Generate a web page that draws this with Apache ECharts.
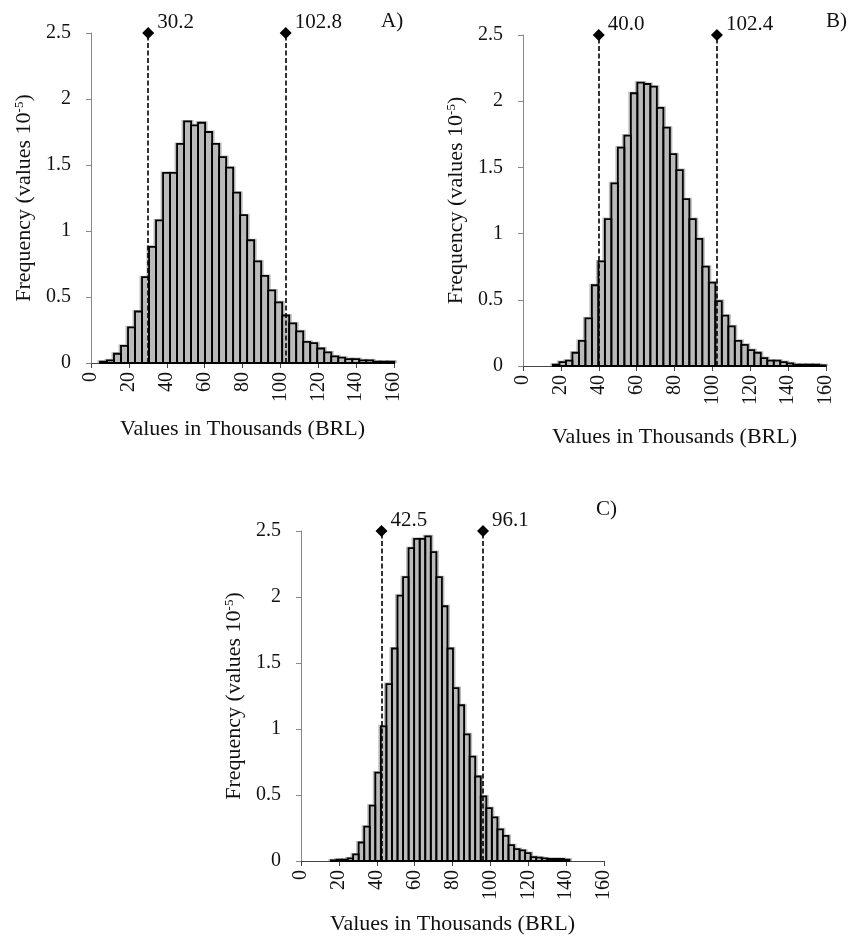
<!DOCTYPE html>
<html>
<head>
<meta charset="utf-8">
<script src="https://cdn.jsdelivr.net/npm/echarts@6/dist/echarts.min.js"></script>
<style>
  html, body { margin: 0; padding: 0; background: #fff; }
  #chart { width: 852px; height: 941px; }
</style>
</head>
<body>
<div id="chart"></div>
<script>
// histogram frequencies (values 10^-5), one entry per bin
const freqA = [0.01, 0.02, 0.07, 0.13, 0.27, 0.39, 0.65, 0.88, 1.08, 1.44,
  1.44, 1.66, 1.83, 1.80, 1.82, 1.75, 1.66, 1.56, 1.48, 1.29,
  1.12, 0.93, 0.77, 0.66, 0.55, 0.46, 0.36, 0.30, 0.24, 0.16,
  0.15, 0.11, 0.08, 0.05, 0.04, 0.03, 0.03, 0.02, 0.02, 0.01,
  0.01, 0.01]
const freqB = [0.01, 0.03, 0.04, 0.10, 0.19, 0.36, 0.61, 0.79, 1.11, 1.38,
  1.65, 1.74, 2.06, 2.14, 2.13, 2.11, 1.95, 1.80, 1.60, 1.48,
  1.26, 1.11, 0.96, 0.75, 0.63, 0.49, 0.38, 0.30, 0.19, 0.16,
  0.12, 0.10, 0.06, 0.04, 0.04, 0.03, 0.02, 0.01, 0.01, 0.01,
  0.01, 0.005]
const freqC = [0.005, 0.01, 0.01, 0.02, 0.05, 0.14, 0.26, 0.42, 0.67, 1.02,
  1.34, 1.61, 2.01, 2.15, 2.37, 2.44, 2.44, 2.46, 2.34, 2.15,
  1.93, 1.61, 1.31, 1.18, 0.96, 0.79, 0.64, 0.49, 0.40, 0.33,
  0.24, 0.19, 0.12, 0.09, 0.08, 0.06, 0.03, 0.025, 0.02, 0.015,
  0.015, 0.015, 0.01]

// bins: first edge and width, in thousands BRL
const binA = { start: 4.75, width: 3.7 }
const binB = { start: 15.8, width: 3.43 }
const binC = { start: 15.8, width: 2.93 }

// interval limits marked with dashed lines
const cutA = [30.2, 102.8]
const cutB = [40.0, 102.4]
const cutC = [42.5, 96.1]

const panelNames = ['A)', 'B)', 'C)']

const SERIF = '"Liberation Serif", "DejaVu Serif", serif'
const GREY = '#bababa'
const INK = '#111'

const grids = [
  { left: 91, top: 33, width: 303, height: 330 },
  { left: 523, top: 35, width: 303, height: 331 },
  { left: 301, top: 531, width: 303, height: 330 }
]
const xNameGaps = [55, 60, 52]

const toBins = (freq, bin) => freq.map((v, i) => [bin.start + i * bin.width, bin.start + (i + 1) * bin.width, v])

const greyItem = (params, api) => {
  const p0 = api.coord([api.value(0), api.value(2)])
  const p1 = api.coord([api.value(1), 0])
  return {
    type: 'rect',
    shape: { x: p0[0] - 2.5, y: p0[1] - 1.5, width: p1[0] - p0[0] + 5, height: p1[1] - p0[1] + 1.5 },
    style: { fill: GREY }
  }
}
const outlineItem = (params, api) => {
  const p0 = api.coord([api.value(0), api.value(2)])
  const p1 = api.coord([api.value(1), 0])
  return {
    type: 'rect',
    shape: { x: p0[0], y: p0[1], width: p1[0] - p0[0], height: p1[1] - p0[1] },
    style: { fill: 'none', stroke: '#000', lineWidth: 1.8 }
  }
}

const xAxes = grids.map((g, i) => ({
  type: 'value', gridIndex: i, min: 0, max: 160, interval: 20,
  axisLine: { lineStyle: { color: '#444', width: 1 } },
  axisTick: { length: 5, lineStyle: { color: '#444' } },
  axisLabel: { rotate: 90, margin: 9, fontSize: 20, color: INK, fontFamily: SERIF },
  splitLine: { show: false },
  name: 'Values in Thousands (BRL)', nameLocation: 'middle', nameGap: xNameGaps[i],
  nameTextStyle: { fontSize: 22, color: INK, fontFamily: SERIF }
}))

const yAxes = grids.map((g, i) => ({
  type: 'value', gridIndex: i, min: 0, max: 2.5, interval: 0.5,
  axisLine: { show: true, lineStyle: { color: '#888', width: 1 } },
  axisTick: { show: true, length: 5, lineStyle: { color: '#888' } },
  axisLabel: { margin: 20, fontSize: 20, color: INK, fontFamily: SERIF },
  splitLine: { show: false },
  name: 'Frequency (values 10{sup|-5})', nameLocation: 'middle', nameGap: 55,
  nameTextStyle: {
    fontSize: 22, color: INK, fontFamily: SERIF,
    rich: { sup: { fontSize: 13, fontFamily: SERIF, color: INK, verticalAlign: 'top', padding: [0, 0, 10, 0] } }
  }
}))

const series = []
;[[freqA, binA, cutA], [freqB, binB, cutB], [freqC, binC, cutC]].forEach(([freq, bin, cuts], i) => {
  const bins = toBins(freq, bin)
  series.push({
    type: 'custom', xAxisIndex: i, yAxisIndex: i, renderItem: greyItem,
    data: bins, z: 1, clip: false, silent: true
  })
  series.push({
    type: 'custom', xAxisIndex: i, yAxisIndex: i, renderItem: outlineItem,
    data: bins, z: 2, clip: false, silent: true,
    markLine: {
      silent: true, symbol: ['none', 'none'], label: { show: false },
      lineStyle: { type: [5, 2.5], color: '#000', width: 1.6 },
      data: cuts.map(c => ({ xAxis: c }))
    }
  })
  series.push({
    type: 'scatter', xAxisIndex: i, yAxisIndex: i, clip: false, z: 5,
    symbol: 'diamond', symbolSize: 12,
    itemStyle: { color: '#000', opacity: 1 },
    label: {
      show: true, position: 'right', distance: 3, offset: [0, -11],
      formatter: p => p.value[0].toFixed(1),
      fontSize: 21, color: INK, fontFamily: SERIF
    },
    data: cuts.map(c => [c, 2.5])
  })
})

const labelPos = [{ left: 381, top: 11 }, { left: 826, top: 11 }, { left: 596, top: 499 }]
const graphic = panelNames.map((t, i) => ({
  type: 'text', left: labelPos[i].left, top: labelPos[i].top,
  style: { text: t, font: `21px ${SERIF}`, fill: INK }
}))

const chart = echarts.init(document.getElementById('chart'))
chart.setOption({
  backgroundColor: '#fff',
  animation: false,
  grid: grids,
  xAxis: xAxes,
  yAxis: yAxes,
  series,
  graphic
})
</script>
</body>
</html>
